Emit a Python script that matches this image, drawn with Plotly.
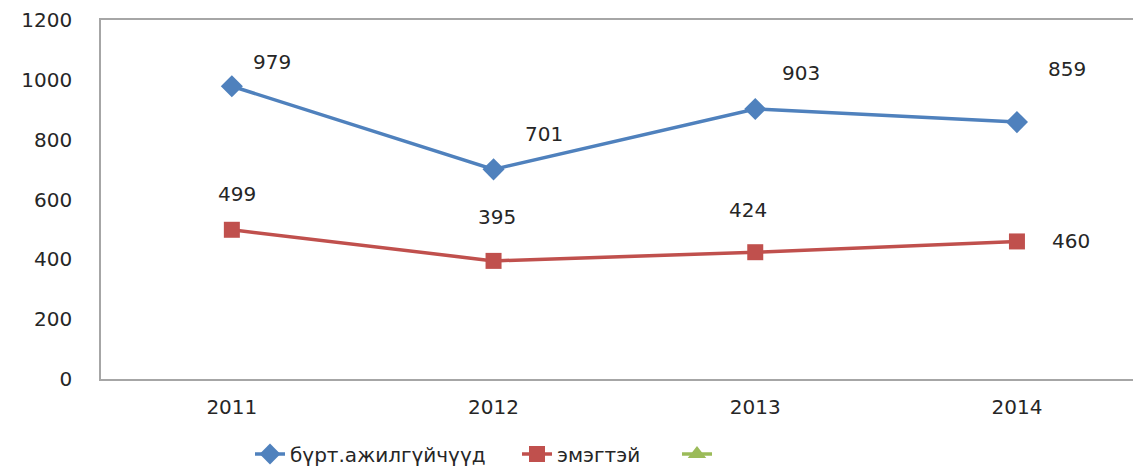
import plotly.graph_objects as go

years = ["2011", "2012", "2013", "2014"]
total = [979, 701, 903, 859]
women = [499, 395, 424, 460]
y_ticks = [0, 200, 400, 600, 800, 1000, 1200]

name_total = "бүрт.ажилгүйчүүд"
name_women = "эмэгтэй"
name_third = " "

BLUE = "#4F81BD"
RED = "#C0504D"
GREEN = "#9BBB59"
FONT = "DejaVu Sans"
TXT = "#262626"
FS = 20

W, H = 1133, 460  # page body has 8px margin

fig = go.Figure()
fig.add_trace(go.Scatter(x=years, y=total, mode="lines+markers", name=name_total,
                         line=dict(color=BLUE, width=3.5),
                         marker=dict(symbol="diamond", size=17, color=BLUE),
                         legend="legend"))
fig.add_trace(go.Scatter(x=years, y=women, mode="lines+markers", name=name_women,
                         line=dict(color=RED, width=3.5),
                         marker=dict(symbol="square", size=16, color=RED),
                         legend="legend2"))
fig.add_trace(go.Scatter(x=years, y=[None] * len(years), mode="lines+markers", name=name_third,
                         line=dict(color=GREEN, width=3.5),
                         marker=dict(symbol="triangle-up", size=16, color=GREEN),
                         showlegend=True, legend="legend3"))

# label offsets (pixels) per point
total_off = [(40, -24), (50, -35), (46, -36), (50, -53)]
women_off = [(5, -36), (3, -44), (-7, -42), (54, 0)]
for i, yr in enumerate(years):
    fig.add_annotation(x=i, y=total[i], text=str(total[i]), showarrow=False,
                       xshift=total_off[i][0], yshift=-total_off[i][1],
                       font=dict(family=FONT, size=FS, color=TXT))
    fig.add_annotation(x=i, y=women[i], text=str(women[i]), showarrow=False,
                       xshift=women_off[i][0], yshift=-women_off[i][1],
                       font=dict(family=FONT, size=FS, color=TXT))

def leg(px):
    return dict(orientation="h", xref="container", yref="container",
                x=(px - 8) / W, xanchor="left", y=(468 - 454) / H, yanchor="middle",
                font=dict(family=FONT, size=FS, color=TXT), bgcolor="rgba(0,0,0,0)",
                itemwidth=30)

fig.update_layout(
    width=W, height=H,
    margin=dict(l=93, r=0, t=10, b=89),
    paper_bgcolor="white", plot_bgcolor="white",
    font=dict(family=FONT, size=FS, color=TXT),
    showlegend=True,
    legend=leg(250),
    legend2=leg(517),
    legend3=leg(677),
    xaxis=dict(type="category", range=[-0.5, 3.474], showgrid=False,
               showline=True, linecolor="#A6A6A6", linewidth=1.5, mirror=True,
               ticks="", ticklabelstandoff=9, zeroline=False),
    yaxis=dict(range=[0, 1200.5], tickvals=y_ticks, showgrid=False,
               showline=True, linecolor="#A6A6A6", linewidth=1.5,
               ticks="", ticklabelstandoff=23, zeroline=False,
               ticklabeloverflow="allow"),
)

fig.write_html("out.html")
